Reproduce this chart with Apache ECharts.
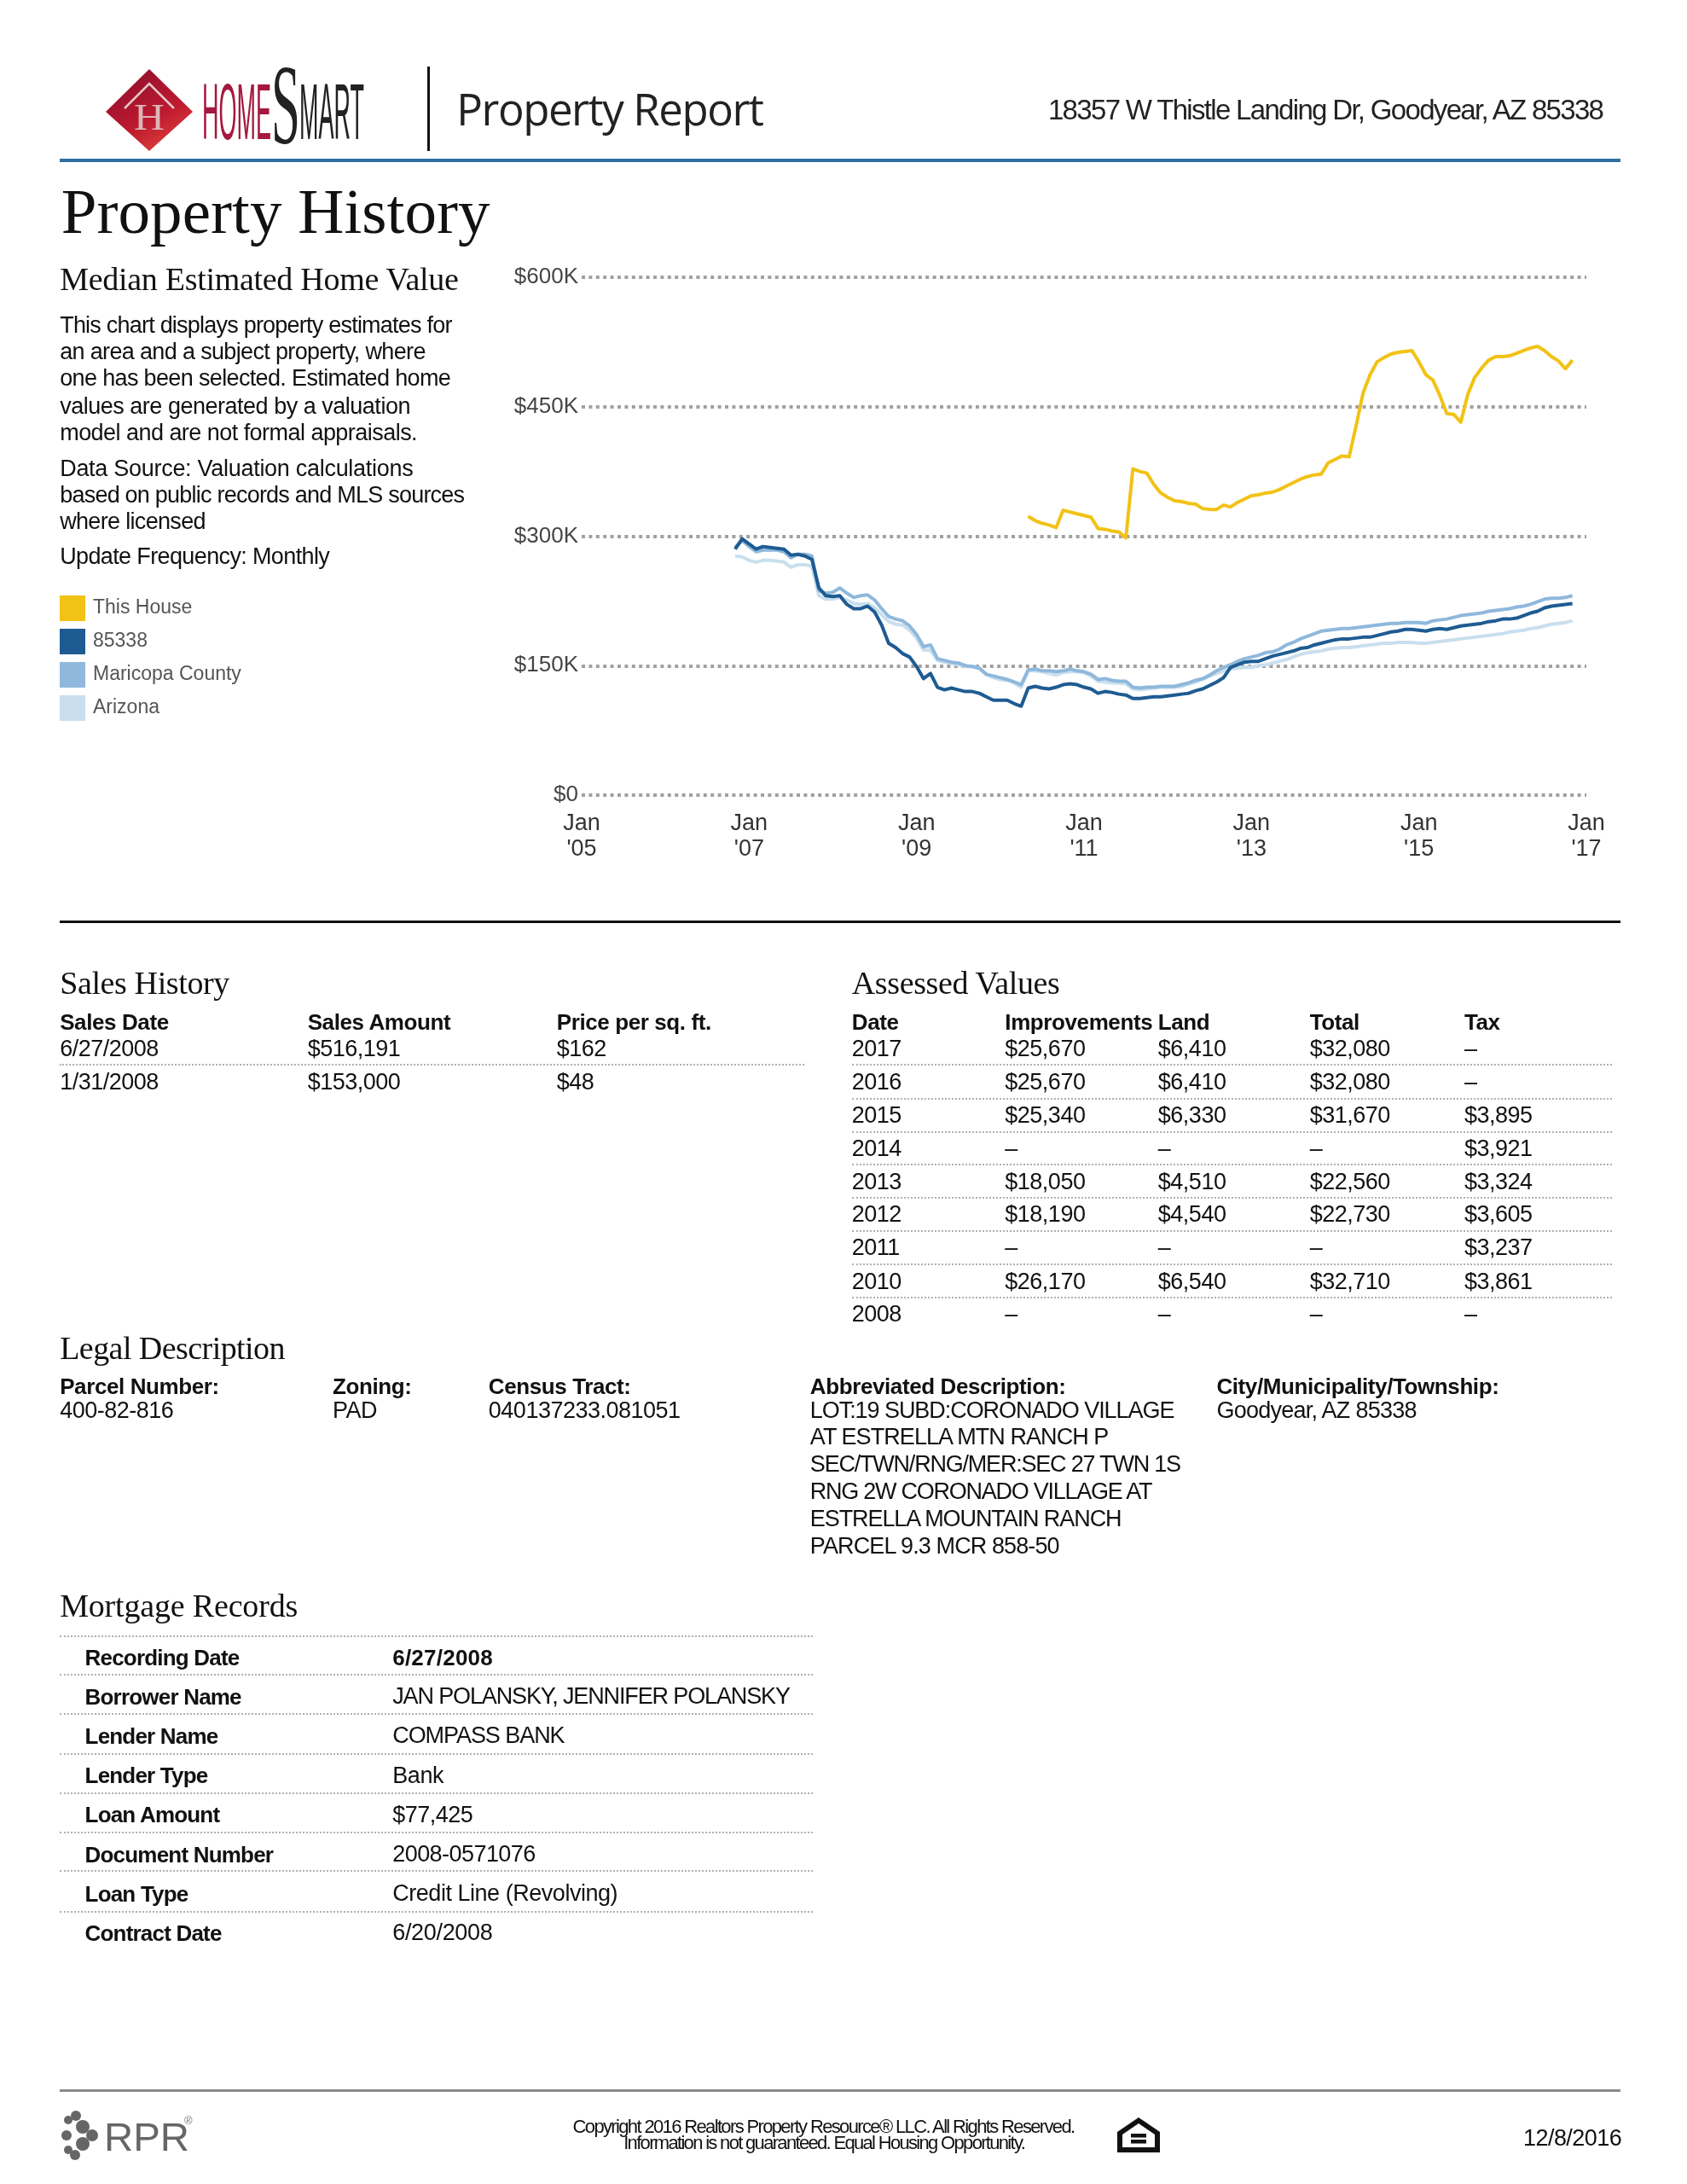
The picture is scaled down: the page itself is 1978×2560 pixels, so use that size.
<!DOCTYPE html>
<html><head><meta charset="utf-8">
<script src="https://cdn.jsdelivr.net/npm/echarts@6/dist/echarts.min.js"></script>
<style>
html,body{margin:0;padding:0;background:#fff}
#page{position:relative;width:1978px;height:2560px;overflow:hidden}
#chart{position:absolute;left:0;top:0;width:1978px;height:2560px}
#overlay{position:absolute;left:0;top:0;width:1978px;height:2560px;pointer-events:none}
.t{position:absolute;white-space:pre;line-height:1;color:#111}
.r{position:absolute}
.d{position:absolute;height:0;border-top:2px dotted #b0b0b0}
</style></head><body>
<div id="page"><div id="chart"></div><div id="overlay"></div></div>
<script>
// ---- chart data, in $K, monthly ----
const seriesNames = ['This House','85338','Maricopa County','Arizona'];
const yTickLabels = ['$0','$150K','$300K','$450K','$600K'];
const firstAreaMonth = 22;   // Nov 2006
const firstHouseMonth = 64;  // May 2010
const thisHouse = [323,318,315,313,310,330,328,326,324,322,
 309,308,306,305,298,378,375,373,360,350,
 345,341,340,338,337,332,331,331,336,334,
 339,343,347,348,350,351,354,358,362,366,
 369,371,372,385,389,393,392,428,466,487,
 502,507,511,513,514,515,502,487,481,463,
 442,441,432,464,484,495,504,508,508,509,
 512,515,518,520,515,508,503,494,504];
const zip85338 = [285,297,291,285,288,287,286,285,278,279,277,273,
 240,231,230,231,221,216,216,219,212,197,176,171,164,160,
 149,135,141,125,122,124,122,120,120,118,114,110,110,110,106,103,
 124,126,124,123,125,128,129,128,125,123,118,120,119,117,116,112,112,113,114,114,
 115,116,117,118,121,123,127,131,136,148,151,154,155,155,158,161,163,165,167,170,
 171,174,176,178,180,181,181,182,183,183,185,187,189,190,192,192,191,190,192,193,
 192,194,196,197,198,199,201,202,204,204,205,208,211,213,217,219,220,221,222];
const maricopa = [287,295,288,282,284,284,284,282,275,279,279,277,
 237,234,235,240,234,229,231,232,226,216,207,204,202,196,
 186,172,174,158,156,154,153,150,149,147,140,138,136,134,131,128,
 145,146,144,144,143,144,146,144,143,140,134,135,133,132,132,125,124,125,125,126,
 126,126,128,130,133,135,139,144,148,151,155,158,160,162,165,166,169,174,177,181,
 184,187,190,191,192,193,193,194,195,196,197,198,199,199,200,200,200,199,202,203,
 204,206,208,209,210,211,213,214,215,216,218,219,221,224,227,228,228,229,231];
const arizona = [277,276,272,270,272,272,271,270,264,267,267,265,
 231,227,227,229,226,222,221,222,217,209,201,198,197,191,
 182,168,168,156,154,153,151,149,149,147,140,136,134,133,130,125,
 144,144,143,141,139,142,143,143,142,138,132,131,130,130,129,123,122,123,124,125,
 125,125,126,129,131,134,138,141,144,146,147,148,148,150,151,153,155,157,160,163,
 165,166,167,169,170,171,171,172,173,174,175,176,176,177,177,177,176,176,177,178,
 179,180,181,182,183,184,185,186,187,189,190,191,193,194,196,198,199,200,202];

// ---- page text data ----
const salesHeader = ['Sales Date','Sales Amount','Price per sq. ft.'];
const salesRows = [['6/27/2008','$516,191','$162'],['1/31/2008','$153,000','$48']];
const assessedHeader = ['Date','Improvements','Land','Total','Tax'];
const assessedRows = [
 ['2017','$25,670','$6,410','$32,080','–'],
 ['2016','$25,670','$6,410','$32,080','–'],
 ['2015','$25,340','$6,330','$31,670','$3,895'],
 ['2014','–','–','–','$3,921'],
 ['2013','$18,050','$4,510','$22,560','$3,324'],
 ['2012','$18,190','$4,540','$22,730','$3,605'],
 ['2011','–','–','–','$3,237'],
 ['2010','$26,170','$6,540','$32,710','$3,861'],
 ['2008','–','–','–','–']];
const mortgageRows = [
 ['Recording Date','6/27/2008'],['Borrower Name','JAN POLANSKY, JENNIFER POLANSKY'],
 ['Lender Name','COMPASS BANK'],['Lender Type','Bank'],['Loan Amount','$77,425'],
 ['Document Number','2008-0571076'],['Loan Type','Credit Line (Revolving)'],['Contract Date','6/20/2008']];
const mortgageValueWidths = [72,286,124,37,58,103,162,72];

// ---- chart ----
const months = [];
for (let y = 2005; y <= 2017; y++) for (let m = 1; m <= 12; m++) months.push(y + '-' + String(m).padStart(2,'0'));
months.length = 145;
const pad = (start, arr) => months.map((_, i) => (i >= start && i - start < arr.length) ? arr[i - start] : null);
const chart = echarts.init(document.getElementById('chart'), null, {renderer:'canvas'});
const labelFont = '"Liberation Sans", Arial, sans-serif';
const mk = (name, start, arr, color, width, z) => ({name, type:'line', data:pad(start, arr), color, showSymbol:false, symbol:'none',
  z, lineStyle:{color, width, join:'round'}, animation:false, connectNulls:false});
chart.setOption({
  animation:false, backgroundColor:'#fff',
  grid:{left:682, top:325, width:1178, height:607, containLabel:false},
  legend:{left:70, top:698, padding:0, orient:'vertical', icon:'rect', itemWidth:30, itemHeight:30, itemGap:9,
    data:seriesNames, selectedMode:false,
    textStyle:{fontFamily:labelFont, fontSize:23, color:'#555', padding:[2,0,0,4]}},
  xAxis:{type:'category', data:months, boundaryGap:false, axisLine:{show:false}, axisTick:{show:false}, splitLine:{show:false},
    axisLabel:{interval:(i)=>i%24===0, margin:19, hideOverlap:false, showMinLabel:true, showMaxLabel:true,
      formatter:(v)=>"Jan\n'"+v.slice(2,4), fontFamily:labelFont, fontSize:27, lineHeight:30, color:'#333', align:'center'}},
  yAxis:{type:'value', min:0, max:600, interval:150, axisLine:{show:false}, axisTick:{show:false},
    axisLabel:{margin:4, fontFamily:labelFont, fontSize:26, color:'#444', padding:[4,0,0,0], formatter:(v)=>yTickLabels[v/150]},
    splitLine:{show:true, lineStyle:{color:'#a0a0a0', width:4, type:[4,4.4]}}},
  series:[
    mk('Arizona', firstAreaMonth, arizona, '#c9dfee', 4, 3),
    mk('Maricopa County', firstAreaMonth, maricopa, '#8fb8dc', 4, 4),
    mk('85338', firstAreaMonth, zip85338, '#1e5b92', 4, 5),
    mk('This House', firstHouseMonth, thisHouse, '#f2c215', 4, 6)
  ]
});

// ---- page furniture ----
const S = 1978/1212, ov = document.getElementById('overlay');
const SANS='"Liberation Sans", Arial, sans-serif', SERIF='"Liberation Serif", "Times New Roman", serif', OPEN='"Open Sans", sans-serif';
const cv = document.createElement('canvas').getContext('2d');
function T(x, y, s, o={}) { // x, y = reference thumb coords (left / vertical centre)
  const e = document.createElement('div'); e.className='t'; e.textContent=s;
  const size=o.size||27, fam=o.font||SANS, w=o.weight||'normal';
  e.style.fontFamily=fam; e.style.fontSize=size+'px'; e.style.fontWeight=w; if(o.color) e.style.color=o.color;
  cv.font=`${w} ${size}px ${fam}`;
  const natural=cv.measureText(s).width;
  let ls=o.ls===undefined?(w==='bold'?-0.8:-0.5):o.ls;
  if(o.w) ls=(o.w*S-natural)/(s.length-1);
  e.style.letterSpacing=ls+'px';
  const width=natural+ls*s.length;
  const px=x*S; 
  if(o.right) e.style.left=(px-width)+'px';
  else if(o.center) e.style.left=(px-width/2)+'px';
  else e.style.left=px+'px';
  e.style.top=(y*S-size/2+1.5)+'px';
  ov.appendChild(e); return e;
}
function R(x,y,w,h,c){const e=document.createElement('div');e.className='r';e.style.cssText+=`left:${x*S}px;top:${y*S-h/2}px;width:${w*S}px;height:${h}px;background:${c}`;ov.appendChild(e);}
function D(x,y,x2){const e=document.createElement('div');e.className='d';e.style.cssText+=`left:${x*S}px;top:${y*S-1}px;width:${(x2-x)*S}px`;ov.appendChild(e);}

// header
R(43,115.5,1121,4,'#2f6f9f');
const v=document.createElement('div');v.className='r';v.style.cssText='left:501px;top:78px;width:3px;height:99px;background:#111';ov.appendChild(v);
T(328,77,'Property Report',{font:OPEN,size:51,w:221,color:'#222'});
T(1153,78,'18357 W Thistle Landing Dr, Goodyear, AZ 85338',{size:33,right:true,w:401,color:'#222'});
ov.insertAdjacentHTML('beforeend',`<svg style="position:absolute;left:0;top:0" width="600" height="200" xmlns="http://www.w3.org/2000/svg">
<defs><linearGradient id="g" x1="0.2" y1="0" x2="0.8" y2="1"><stop offset="0" stop-color="#8e0f2e"/><stop offset="0.6" stop-color="#bf1a30"/><stop offset="1" stop-color="#e2463a"/></linearGradient></defs>
<polygon points="175,81 226,131 175,177 124,131" fill="url(#g)"/>
<polyline points="146,127 175,98 204,127" fill="none" stroke="#e9c8c8" stroke-width="2.5"/>
<text x="157" y="152" font-family='"Liberation Serif",serif' font-size="44" fill="#dcb6b6" textLength="36" lengthAdjust="spacingAndGlyphs">H</text>
<text x="237" y="163" font-family='"Liberation Sans",sans-serif' font-size="92" fill="#a5183f" textLength="81" lengthAdjust="spacingAndGlyphs">HOME</text>
<text x="318" y="168" font-family='"Liberation Serif",serif' font-size="134" fill="#222" textLength="34" lengthAdjust="spacingAndGlyphs">S</text>
<text x="351" y="163" font-family='"Liberation Sans",sans-serif' font-size="92" fill="#222" textLength="76" lengthAdjust="spacingAndGlyphs">MART</text>
</svg>`);
T(44,151,'Property History',{font:SERIF,size:75,w:308,color:'#111'});

// left description
T(43,199.5,'Median Estimated Home Value',{font:SERIF,size:38,w:287});
[['This chart displays property estimates for',233,282],['an area and a subject property, where',252,263],['one has been selected. Estimated home',271,281],
 ['values are generated by a valuation',291,252],['model and are not formal appraisals.',310,257],['Data Source: Valuation calculations',336,254],
 ['based on public records and MLS sources',355,291],['where licensed',374,105],['Update Frequency: Monthly',399,194]]
 .forEach(([s,y,w])=>T(43,y,s,{w}));

R(43,662,1121,3,'#111');

// sales history
T(43,705.2,'Sales History',{font:SERIF,size:38,w:122});
const salesX=[43,221,400];
salesHeader.forEach((s,i)=>T(salesX[i],733,s,{weight:'bold',size:26,ls:-0.4}));
salesRows.forEach((r,j)=>r.forEach((s,i)=>T(salesX[i],[752.5,776.5][j],s)));
D(43,765,578);

// assessed values
T(612,705.2,'Assessed Values',{font:SERIF,size:38,w:150});
const assessedX=[612,722,832,941,1052];
assessedHeader.forEach((s,i)=>T(assessedX[i],733,s,{weight:'bold',size:26,ls:-0.4}));
const assessedY=[752.5,776.5,800.5,824,848,871.5,895.5,919.5,943];
assessedRows.forEach((r,j)=>r.forEach((s,i)=>T(assessedX[i],assessedY[j],s)));
[765,789,813,836.5,860,884,908,932].forEach(y=>D(612,y,1158));

// legal
T(43,967.2,'Legal Description',{font:SERIF,size:38,w:162});
const lx=[43,239,351,582,874];
['Parcel Number:','Zoning:','Census Tract:','Abbreviated Description:','City/Municipality/Township:'].forEach((s,i)=>T(lx[i],995,s,{weight:'bold',size:26,ls:-0.4}));
['400-82-816','PAD','040137233.081051'].forEach((s,i)=>T(lx[i],1012.5,s));
T(lx[4],1012.5,'Goodyear, AZ 85338',{w:145});
[['LOT:19 SUBD:CORONADO VILLAGE',1012.5,262],['AT ESTRELLA MTN RANCH P',1031.5,216],['SEC/TWN/RNG/MER:SEC 27 TWN 1S',1051,267],
 ['RNG 2W CORONADO VILLAGE AT',1070.5,247],['ESTRELLA MOUNTAIN RANCH',1090,225],['PARCEL 9.3 MCR 858-50',1109.5,180]]
 .forEach(([s,y,w])=>T(582,y,s,{w}));

// mortgage
T(43,1152.2,'Mortgage Records',{font:SERIF,size:38,w:171});
[1175,1203,1231,1259.5,1288,1316,1344,1373].forEach(y=>D(43,y,584));
mortgageRows.forEach((r,j)=>{const y=1189.4+j*28.3;T(61,y,r[0],{weight:'bold',size:26});T(282,y,r[1],{weight:j===0?'bold':'normal',size:j===0?26:27,w:mortgageValueWidths[j]});});

// footer
R(43,1501.5,1121,3,'#8a8a8a');
T(592,1526.5,'Copyright 2016 Realtors Property Resource® LLC. All Rights Reserved.',{size:22,center:true,w:362});
T(592,1538.5,'Information is not guaranteed. Equal Housing Opportunity.',{size:22,center:true,w:289});
T(1165,1535,'12/8/2016',{right:true,w:71});
ov.insertAdjacentHTML('beforeend',`<svg style="position:absolute;left:0;top:2460px" width="1978" height="100" xmlns="http://www.w3.org/2000/svg">
<g fill="#666"><circle cx="80" cy="25" r="5"/><circle cx="89" cy="20" r="6"/><circle cx="97" cy="33" r="8"/><circle cx="108" cy="43" r="7"/><circle cx="97" cy="53" r="8"/><circle cx="88" cy="66" r="6"/><circle cx="78" cy="43" r="6"/><circle cx="80" cy="60" r="5"/></g>
<text x="122" y="61" font-family='"Liberation Sans",sans-serif' font-size="47" fill="#666" textLength="100" lengthAdjust="spacingAndGlyphs">RPR</text>
<text x="216" y="30" font-family='"Liberation Sans",sans-serif' font-size="13" fill="#777">®</text>
<path d="M1335 22 L1310 39 V63 H1360 V39 Z M1316 42 L1335 29 L1354 42 V57 H1316 Z" fill="#111" fill-rule="evenodd"/>
<rect x="1326" y="41" width="18" height="4.5" fill="#111"/><rect x="1326" y="48" width="18" height="4.5" fill="#111"/>
</svg>`);
</script>
</body></html>
